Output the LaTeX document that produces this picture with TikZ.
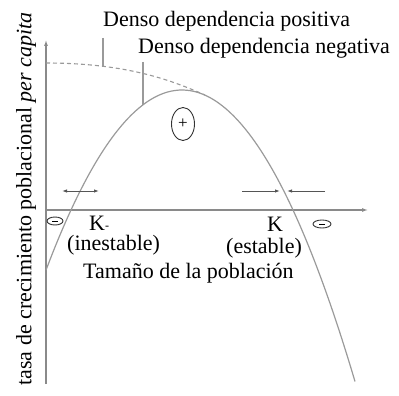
\documentclass[tikz,border=0pt]{standalone}
\usepackage{fontspec}
\setmainfont{Liberation Serif}
\newfontfamily\serifx{Liberation Serif}
\usetikzlibrary{arrows.meta,shapes.geometric}
\definecolor{axisgray}{HTML}{8A8A8A}
\definecolor{curvegray}{HTML}{9A9A9A}
\definecolor{arrowgray}{HTML}{555555}
\definecolor{txt}{HTML}{000000}
\begin{document}
\begin{tikzpicture}[x=1pt,y=-1pt,
  font=\serifx\fontsize{22}{24}\selectfont,
  axisline/.style={draw=axisgray, line width=1.1pt, -{Latex[length=6pt,width=4pt]}},
  curveline/.style={draw=curvegray, line width=1.2pt},
  dashline/.style={draw=curvegray, line width=1.1pt, dash pattern=on 4pt off 3pt},
  leader/.style={draw=curvegray, line width=1.1pt},
  flow/.style={draw=arrowgray, line width=0.9pt, -{Latex[length=5pt,width=3.5pt]}},
  lbl/.style={text=txt, inner sep=0pt},
  signbox/.style={draw=txt!80, ellipse, line width=0.9pt, inner sep=0pt}]
\useasboundingbox (0,0) rectangle (399,396);
% axes
\coordinate (ybot) at (46,384);
\coordinate (ytop) at (46,40);
\coordinate (xorig) at (46,210);
\coordinate (xend) at (368,210);
\draw[axisline] (ybot) -- (ytop);
\draw[axisline] (xorig) -- (xend);
% curves
\draw[curveline] plot[domain=46:355, samples=80, smooth] (\x, {210-120*(1-((\x-182)/111)^2)});
\coordinate (dstart) at (46,63);
\coordinate (dend) at (205,95);
\draw[dashline] (dstart) .. controls (130,63) and (175,82) .. (dend);
% leaders
\coordinate (lp1) at (103,38);
\coordinate (lp2) at (103,67);
\coordinate (ln1) at (143,62);
\coordinate (ln2) at (143,105);
\draw[leader] (lp1) -- (lp2);
\draw[leader] (ln1) -- (ln2);
% flow arrows
\coordinate (la1) at (80,191);
\coordinate (la2) at (62,191);
\coordinate (la3) at (99,191);
\draw[flow] (la1) -- (la2);
\draw[flow] (la1) -- (la3);
\coordinate (ra1) at (242,191);
\coordinate (ra2) at (280,191);
\coordinate (ra3) at (325,191);
\coordinate (ra4) at (287,191);
\draw[flow] (ra1) -- (ra2);
\draw[flow] (ra3) -- (ra4);
% sign ellipses
\node[signbox, minimum width=23pt, minimum height=33pt] (plus) at (183,124) {};
\node[lbl, font=\serifx\fontsize{17}{17}\selectfont] (plustxt) at (plus.center) {+};
\node[signbox, minimum width=16pt, minimum height=8pt] (mleft) at (55,221) {};
\node[signbox, minimum width=18pt, minimum height=8pt] (mright) at (322,224) {};
\draw[txt, line width=1pt] ([xshift=-3pt]mleft.center) -- ([xshift=3pt]mleft.center);
\draw[txt, line width=1pt] ([xshift=-3pt]mright.center) -- ([xshift=3pt]mright.center);
% labels
\node[lbl, anchor=west] (kl) at (89,223) {K\raisebox{0.05em}{\serifx\fontsize{12}{12}\selectfont -}};
\node[lbl, anchor=west] (inest) at (67,245) {(inestable)};
\node[lbl, anchor=west] (kr) at (267,224) {K};
\node[lbl, anchor=west, fill=white, inner xsep=1pt] (est) at (225,248) {(estable)};
\node[lbl, anchor=west] (tam) at (83,273) {Tamaño de la población};
\node[lbl, anchor=west] (pos) at (103,21) {Denso dependencia positiva};
\node[lbl, anchor=west] (neg) at (138,48) {Denso dependencia negativa};
\node[lbl, rotate=90, anchor=center] (ylab) at (26,199) {tasa de crecimiento poblacional \textit{per capita}};
\end{tikzpicture}
\end{document}
